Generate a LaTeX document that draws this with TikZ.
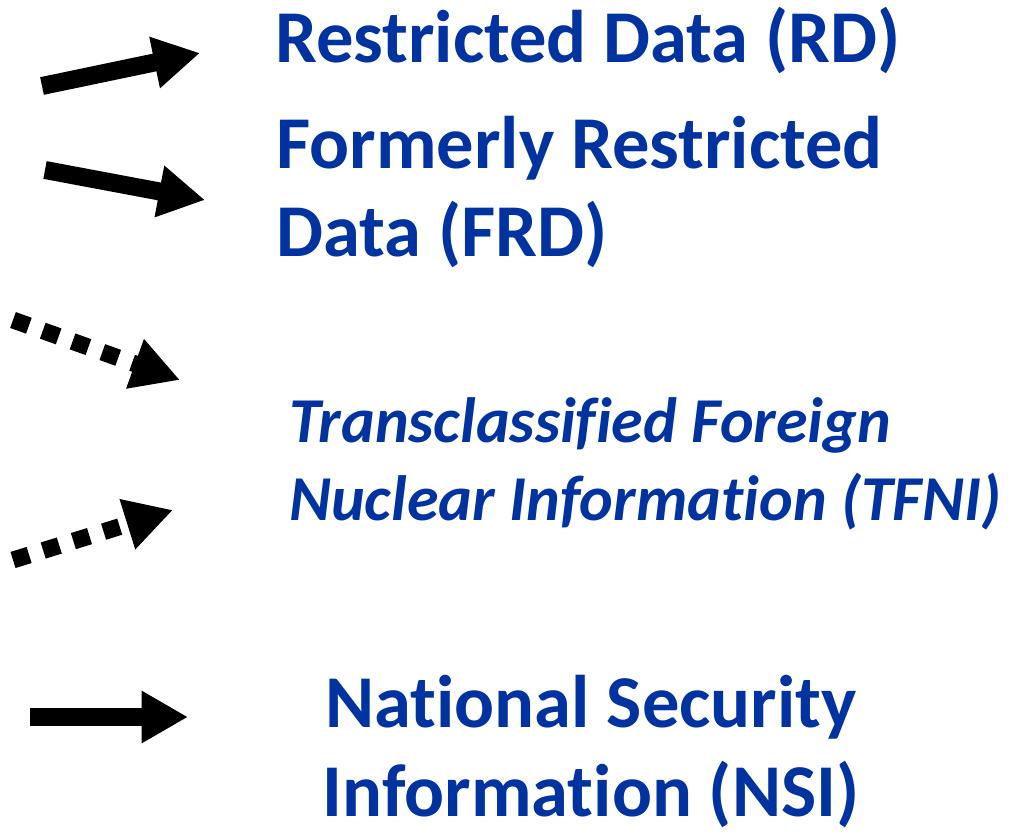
\documentclass[tikz,border=0pt]{standalone}
\usepackage{fontspec}
\setmainfont{Carlito}[Ligatures=NoCommon]
\usetikzlibrary{arrows.meta}
\definecolor{labelblue}{RGB}{0,51,160}

\begin{document}
\begin{tikzpicture}[x=0.025cm,y=-0.025cm,
  solidarrow/.style={line width=12.8pt,-{Triangle[length=33pt,width=35pt]}},
  dotarrow/.style={line width=12pt,dash pattern=on 12pt off 10.5pt,-{Triangle[length=34pt,width=35pt]}},
  boldlabel/.style={anchor=base west,inner sep=0pt,align=left,text=labelblue,
    font=\fontsize{53}{63}\selectfont\bfseries},
  italabel/.style={anchor=base west,inner sep=0pt,align=left,text=labelblue,
    font=\fontsize{45.5}{55}\selectfont\bfseries\itshape}]

\useasboundingbox (0,0) rectangle (1012,833);

% labels (base = last line)
\node[boldlabel] (rd) at (275,63) {Restricted Data (RD)};
\node[boldlabel] (frd) at (276,257) {Formerly Restricted\\Data (FRD)};
\node[italabel] (tfni) at (289,520) {Transclassified Foreign\\Nuclear Information (TFNI)};
\node[boldlabel,align=center,anchor=base] (nsi) at (591,816) {National Security\\Information (NSI)};

% arrow ends
\coordinate (rdtail) at (42,86);
\coordinate (rdtip) at (200,53);
\coordinate (frdtail) at (45,170);
\coordinate (frdtip) at (205,200);
\coordinate (tfnitailA) at (13,320);
\coordinate (tfnitipA) at (180,380);
\coordinate (tfnitailB) at (13,560);
\coordinate (tfnitipB) at (173,510);
\coordinate (nsitail) at (30,717);
\coordinate (nsitip) at (188,717);

% arrows
\draw[solidarrow] (rdtail) -- (rdtip);
\draw[solidarrow] (frdtail) -- (frdtip);
\draw[dotarrow] (tfnitailA) -- (tfnitipA);
\draw[dotarrow] (tfnitailB) -- (tfnitipB);
\draw[solidarrow] (nsitail) -- (nsitip);

\end{tikzpicture}
\end{document}
